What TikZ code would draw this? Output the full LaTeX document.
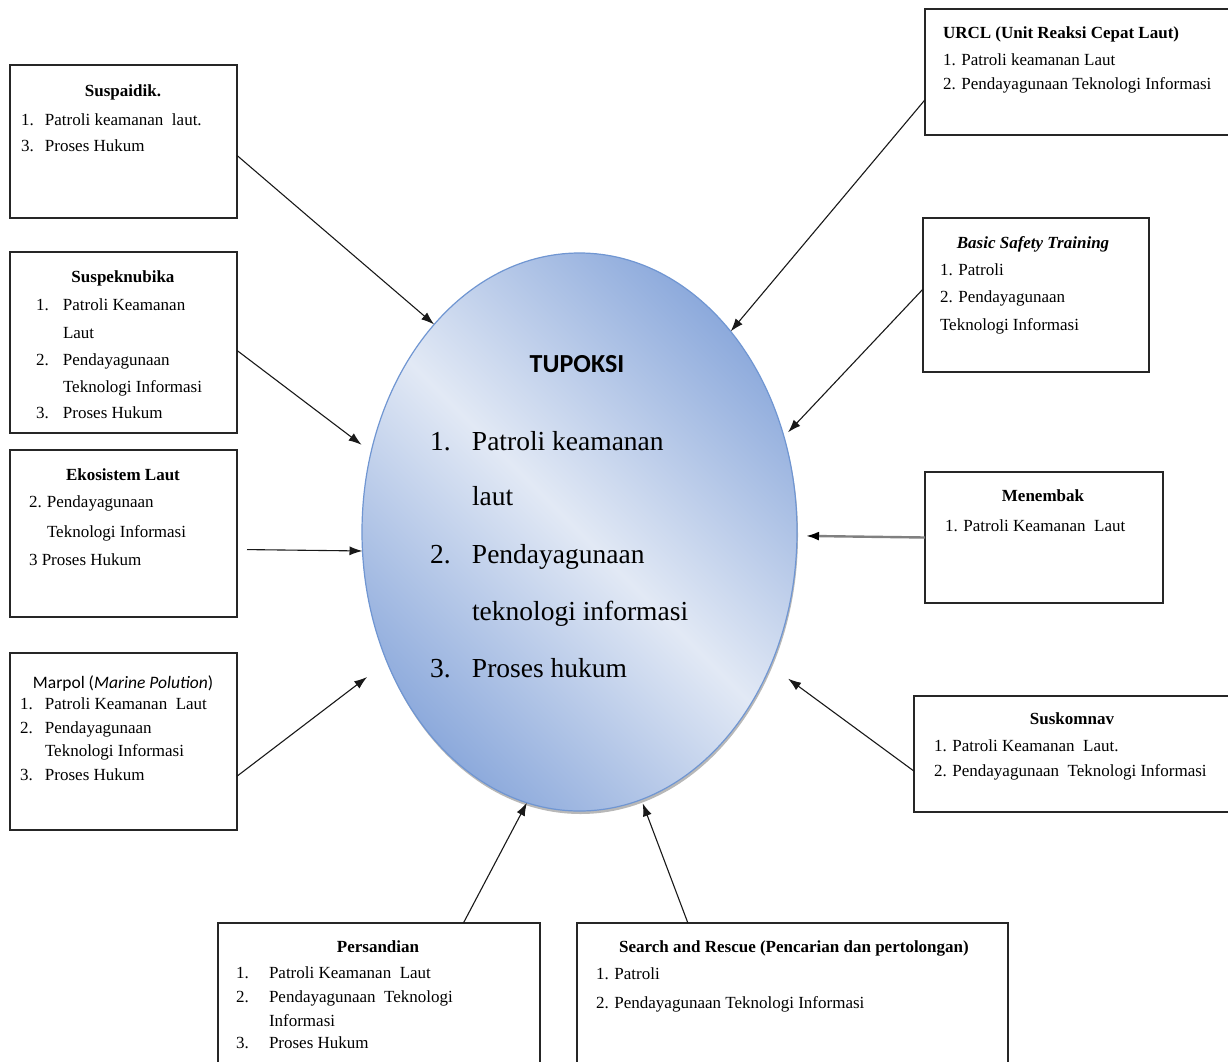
\documentclass[tikz,border=0pt]{standalone}
\usepackage{fontspec}
\setmainfont{Liberation Serif}
\newfontfamily\calib{Carlito}
\usetikzlibrary{arrows.meta,shapes.geometric}
\definecolor{bdark}{RGB}{118,153,213}
\definecolor{blight}{RGB}{226,233,245}
\definecolor{bedge}{RGB}{112,150,210}
\pgfdeclarehorizontalshading{mirdiag}{100bp}{color(0bp)=(bdark); color(18bp)=(bdark); color(50bp)=(blight); color(82bp)=(bdark); color(100bp)=(bdark)}
\newcommand\boxfont{\fontsize{17}{20}\selectfont}
\newcommand\numbox[2]{\makebox[#1][l]{#2}}
\begin{document}
\begin{tikzpicture}[x=1pt,y=-1pt,
  box/.style={draw=black!85, line width=1.4pt, anchor=north west, inner sep=0, outer sep=0},
  arr/.style={-{Latex[length=13pt,width=9pt]}, line width=1.1pt, draw=black!90},
  grayarr/.style={-{Latex[length=13pt,width=9pt,color=black]}, line width=2.4pt, draw=black!50},
  t/.style={anchor=base west, inner sep=0, outer sep=0, font=\boxfont},
  tt/.style={anchor=base, inner sep=0, outer sep=0, font=\boxfont\bfseries},
  big/.style={anchor=base west, inner sep=0, outer sep=0, font=\fontsize{27.5}{30}\selectfont}]
\useasboundingbox (0,0) rectangle (1228,1061);
\clip (0,0) rectangle (1228,1061);
\fill[white] (0,0) rectangle (1228,1061);

% central ellipse
\node[ellipse, minimum width=435pt, minimum height=558pt, inner sep=0, outer sep=0, fill=black!28] (tupsh) at (580.5,535) {};
\node[ellipse, minimum width=435pt, minimum height=558pt, inner sep=0, outer sep=0, draw=bedge, line width=1.2pt, shade, shading=mirdiag, shading angle=45] (tup) at (579.5,532) {};
\node[anchor=base, inner sep=0, font={\calib\fontsize{26}{30}\selectfont\bfseries}] (tuptitle) at (577,372) {TUPOKSI};
\node[big] (e1) at (430,450) {\numbox{42pt}{1.}Patroli keamanan};
\node[big] (e1b) at (472,505) {laut};
\node[big] (e2) at (430,563) {\numbox{42pt}{2.}Pendayagunaan};
\node[big] (e2b) at (472,620) {teknologi informasi};
\node[big] (e3) at (430,677) {\numbox{42pt}{3.}Proses hukum};

% boxes
\node[box, minimum width=227pt, minimum height=153pt] (b1) at (10,65) {};
\node[box, minimum width=227pt, minimum height=181pt] (b2) at (10,252) {};
\node[box, minimum width=227pt, minimum height=167pt] (b3) at (10,450) {};
\node[box, minimum width=227pt, minimum height=177pt] (b4) at (10,653) {};
\node[box, minimum width=315pt, minimum height=126pt] (b5) at (925,9) {};
\node[box, minimum width=226pt, minimum height=154pt] (b6) at (923,218) {};
\node[box, minimum width=238pt, minimum height=131pt] (b7) at (925,472) {};
\node[box, minimum width=326pt, minimum height=116pt] (b8) at (914,696) {};
\node[box, minimum width=322pt, minimum height=152pt] (b9) at (218,923) {};
\node[box, minimum width=431pt, minimum height=152pt] (b10) at (577,923) {};

% box texts
\node[tt] (b1h) at (123,96) {Suspaidik.};
\node[t] (b1a) at (21,125) {\numbox{24pt}{1.}Patroli keamanan\ \ laut.};
\node[t] (b1b) at (21,151) {\numbox{24pt}{3.}Proses Hukum};

\node[tt] (b2h) at (123,282) {Suspeknubika};
\node[t] (b2a) at (36,310) {\numbox{27pt}{1.}Patroli Keamanan};
\node[t] (b2b) at (63,338) {Laut};
\node[t] (b2c) at (36,365) {\numbox{27pt}{2.}Pendayagunaan};
\node[t] (b2d) at (63,392) {Teknologi Informasi};
\node[t] (b2e) at (36,418) {\numbox{27pt}{3.}Proses Hukum};

\node[tt] (b3h) at (123,480) {Ekosistem Laut};
\node[t] (b3a) at (29,507) {\numbox{18pt}{2.}Pendayagunaan};
\node[t] (b3b) at (47,537) {Teknologi Informasi};
\node[t] (b3c) at (29,565) {3 Proses Hukum};

\node[anchor=base, inner sep=0, font={\calib\fontsize{17.5}{20}\selectfont}] (b4h) at (123,688) {Marpol (\textit{Marine Polution})};
\node[t] (b4a) at (20,709) {\numbox{25pt}{1.}Patroli Keamanan\ \ Laut};
\node[t] (b4b) at (20,733) {\numbox{25pt}{2.}Pendayagunaan};
\node[t] (b4c) at (45,756) {Teknologi Informasi};
\node[t] (b4d) at (20,780) {\numbox{25pt}{3.}Proses Hukum};

\node[t, font=\boxfont\bfseries] (b5h) at (943,38) {URCL (Unit Reaksi Cepat Laut)};
\node[t] (b5a) at (943,65) {1. Patroli keamanan Laut};
\node[t] (b5b) at (943,89) {2. Pendayagunaan Teknologi Informasi};

\node[tt, font=\boxfont\bfseries\itshape] (b6h) at (1033,248) {Basic Safety Training};
\node[t] (b6a) at (940,275) {1. Patroli};
\node[t] (b6b) at (940,302) {2. Pendayagunaan};
\node[t] (b6c) at (940,330) {Teknologi Informasi};

\node[tt] (b7h) at (1043,501) {Menembak};
\node[t] (b7a) at (945,531) {1. Patroli Keamanan\ \ Laut};

\node[tt] (b8h) at (1072,724) {Suskomnav};
\node[t] (b8a) at (934,751) {1. Patroli Keamanan\ \ Laut.};
\node[t] (b8b) at (934,776) {2. Pendayagunaan\ \ Teknologi Informasi};

\node[tt] (b9h) at (378,952) {Persandian};
\node[t] (b9a) at (236,978) {\numbox{33pt}{1.}Patroli Keamanan\ \ Laut};
\node[t] (b9b) at (236,1002) {\numbox{33pt}{2.}Pendayagunaan\ \ Teknologi};
\node[t] (b9c) at (269,1026) {Informasi};
\node[t] (b9d) at (236,1048) {\numbox{33pt}{3.}Proses Hukum};

\node[tt] (b10h) at (794,952) {Search and Rescue (Pencarian dan pertolongan)};
\node[t] (b10a) at (596,979) {1. Patroli};
\node[t] (b10b) at (596,1008) {2. Pendayagunaan Teknologi Informasi};

% connectors
\draw[arr] (b1.-7.8) -- (tup.125.7);
\draw[arr, shorten >=12pt] (b2.-4.8) -- (tup.159.9);
\draw[arr, shorten <=10pt] (b3.-8.8) -- (tup.185);
\draw[arr, shorten >=25pt] (b4.-17.4) -- (tup.214.6);
\draw[arr] (b5.190.1) -- (tup.53.7);
\draw[arr, shorten >=6pt] (b6.177.5) -- (tup.25.7);
\draw[grayarr, shorten >=9pt] (b7.west) -- (tup.-1.3);
\draw[arr, shorten >=22pt] (b8.186.6) -- (tup.-35.2);
\draw[arr] (b9.42.5) -- (tup.259.6);
\draw[arr, shorten >=4pt] (b10.144) -- (tup.-77);
\end{tikzpicture}
\end{document}
